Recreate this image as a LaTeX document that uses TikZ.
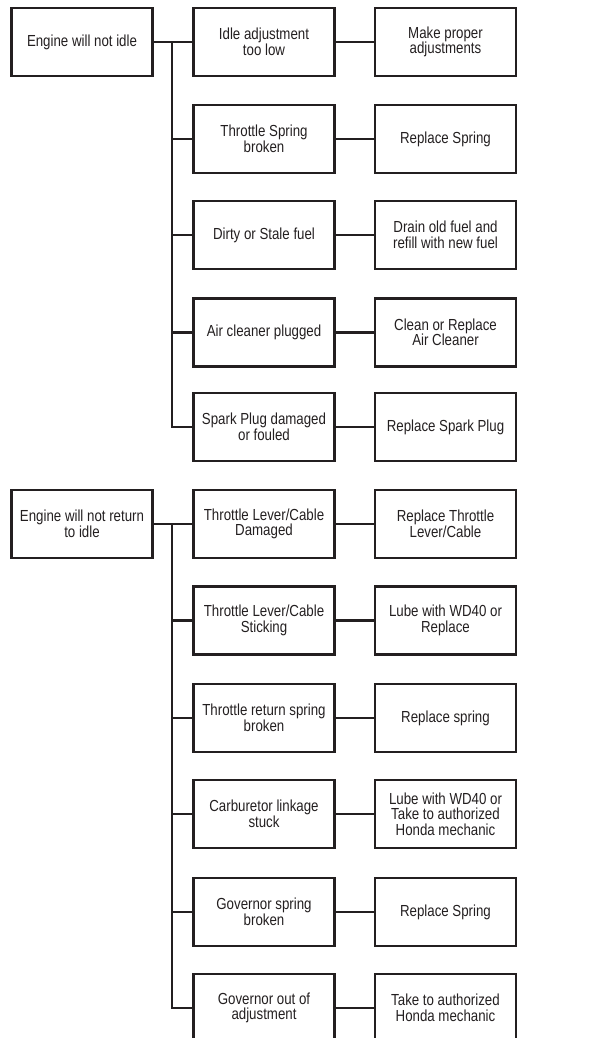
\documentclass[tikz,border=0pt]{standalone}
\usepackage{fontspec}
\setmainfont[FakeStretch=0.83]{Liberation Sans}
\definecolor{ink}{HTML}{231F20}
\begin{document}
\begin{tikzpicture}[x=1pt,y=-1pt,
  box/.style={draw=ink, line width=2.2pt, minimum width=141pt, minimum height=68pt,
    align=center, inner sep=2pt, text=ink, font=\fontsize{16}{15.5}\selectfont},
  link/.style={draw=ink, line width=2.2pt}]
\useasboundingbox (0,0) rectangle (610,1038);
% group 1
\node[box] (e1) at (82,42) {Engine will not idle};
\node[box] (a1) at (264,42) {Idle adjustment\\too low};
\node[box] (a2) at (264,139) {Throttle Spring\\broken};
\node[box] (a3) at (264,235) {Dirty or Stale fuel};
\node[box] (a4) at (264,332.5) {Air cleaner plugged};
\node[box] (a5) at (264,427) {Spark Plug damaged\\or fouled};
\node[box] (r1) at (445.5,42) {Make proper\\adjustments};
\node[box] (r2) at (445.5,139) {Replace Spring};
\node[box] (r3) at (445.5,235) {Drain old fuel and\\refill with new fuel};
\node[box] (r4) at (445.5,332.5) {Clean or Replace\\Air Cleaner};
\node[box] (r5) at (445.5,427) {Replace Spark Plug};
\coordinate (j1) at (172,42);
\draw[link] (e1.east) -- (a1.west);
\draw[link] (j1) |- (a5.west);
\foreach \i in {2,3,4} \draw[link] (j1 |- a\i.west) -- (a\i.west);
\foreach \i in {1,...,5} \draw[link] (a\i.east) -- (r\i.west);
% group 2
\node[box] (e2) at (82,524) {Engine will not return\\to idle};
\node[box] (b1) at (264,524) {Throttle Lever/Cable\\Damaged};
\node[box] (b2) at (264,620.5) {Throttle Lever/Cable\\Sticking};
\node[box] (b3) at (264,718) {Throttle return spring\\broken};
\node[box] (b4) at (264,814) {Carburetor linkage\\stuck};
\node[box] (b5) at (264,912) {Governor spring\\broken};
\node[box] (b6) at (264,1008) {Governor out of\\adjustment};
\node[box] (s1) at (445.5,524) {Replace Throttle\\Lever/Cable};
\node[box] (s2) at (445.5,620.5) {Lube with WD40 or\\Replace};
\node[box] (s3) at (445.5,718) {Replace spring};
\node[box] (s4) at (445.5,814) {Lube with WD40 or\\Take to authorized\\Honda mechanic};
\node[box] (s5) at (445.5,912) {Replace Spring};
\node[box] (s6) at (445.5,1008) {Take to authorized\\Honda mechanic};
\coordinate (j2) at (172,524);
\draw[link] (e2.east) -- (b1.west);
\draw[link] (j2) |- (b6.west);
\foreach \i in {2,3,4,5} \draw[link] (j2 |- b\i.west) -- (b\i.west);
\foreach \i in {1,...,6} \draw[link] (b\i.east) -- (s\i.west);
\end{tikzpicture}
\end{document}
